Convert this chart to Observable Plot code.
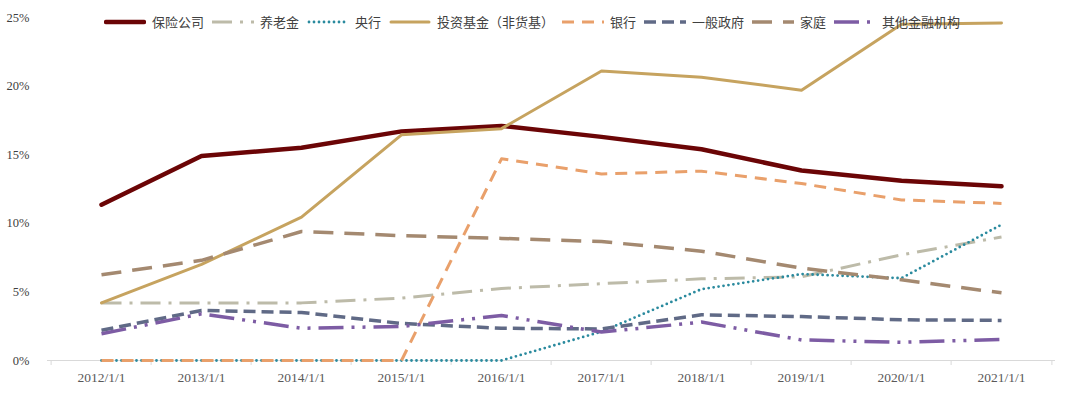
<!DOCTYPE html>
<html><head><meta charset="utf-8">
<script src="https://cdn.jsdelivr.net/npm/d3@7"></script>
<script src="https://cdn.jsdelivr.net/npm/@observablehq/plot@0.6"></script>
<style>
body{margin:0;background:#fff;}
#wrap{position:relative;width:1080px;height:393px;}
#legend{position:absolute;left:104px;top:13px;display:flex;gap:8px;font-family:"Noto Sans CJK SC";font-size:13px;line-height:18px;color:#404040;align-items:center;white-space:nowrap;}
.item{display:flex;align-items:center;gap:6px;}
.item svg{display:block;}
</style></head><body><div id="wrap"><div id="legend"></div></div>
<script>
// ---- data (percent) ----
const dates = ["2012/1/1","2013/1/1","2014/1/1","2015/1/1","2016/1/1","2017/1/1","2018/1/1","2019/1/1","2020/1/1","2021/1/1"];
const seriesNames = ["保险公司","养老金","央行","投资基金（非货基）","银行","一般政府","家庭","其他金融机构"];
const insurance = [11.35,14.9,15.5,16.7,17.1,16.3,15.4,13.85,13.1,12.7];
const pension   = [4.2,4.2,4.2,4.55,5.25,5.6,5.95,6.1,7.7,9.0];
const centralBank = [0,0,0,0,0,2.1,5.2,6.3,6.0,9.9];
const funds     = [4.2,7.0,10.45,16.45,16.9,21.1,20.65,19.7,24.5,24.6];
const banks     = [0,0,0,0,14.7,13.6,13.8,12.9,11.7,11.45];
const government = [2.2,3.65,3.5,2.7,2.35,2.3,3.33,3.2,2.97,2.92];
const households = [6.25,7.3,9.4,9.1,8.9,8.67,7.97,6.73,5.88,4.93];
const otherFin  = [1.95,3.4,2.35,2.48,3.28,2.07,2.8,1.5,1.33,1.53];
const yTicks = [0,5,10,15,20,25];

// ---- styles ----
const valueArrays = [insurance,pension,centralBank,funds,banks,government,households,otherFin];
const styles = [
  {stroke:"#6B0506", strokeWidth:4.5, dash:null, cap:"round"},
  {stroke:"#BDBBA9", strokeWidth:3, dash:"20,8,3,8", cap:"butt"},
  {stroke:"#2A8A9E", strokeWidth:2.8, dash:"0,5", cap:"round"},
  {stroke:"#C6A35F", strokeWidth:3, dash:null, cap:"round"},
  {stroke:"#E9A06B", strokeWidth:3, dash:"12,8", cap:"butt"},
  {stroke:"#606A86", strokeWidth:3.5, dash:"12,6", cap:"butt"},
  {stroke:"#A48970", strokeWidth:3.5, dash:"20,11", cap:"butt"},
  {stroke:"#7D5CA4", strokeWidth:3.5, dash:"25,8,3,8,3,8", cap:"butt"}
];

const W = 1080, H = 393, mL = 47, mR = 25, mT = 17, mB = 33;
const step = (W - mL - mR) / dates.length;

const marks = [];
marks.push(Plot.ruleY([0], {stroke:"#D9D9D9", strokeWidth:1}));
marks.push(Plot.axisX(dates, {tickSize:5, tickFormat:()=> "", dx:-step/2, stroke:"#D9D9D9", label:null}));
marks.push(Plot.axisX([dates[dates.length-1]], {tickSize:5, tickFormat:()=> "", dx:step/2, stroke:"#D9D9D9", label:null}));
marks.push(Plot.axisX(dates, {tickSize:0, tickPadding:12, fontFamily:"Liberation Serif", fontSize:13.5, fill:"#595959", label:null}));
marks.push(Plot.axisY(yTicks, {tickSize:0, tickPadding:18, tickFormat:d=>d+"%", fontFamily:"Liberation Serif", fontSize:12.5, fill:"#404040", label:null}));
seriesNames.forEach((name,i)=>{
  const s = styles[i];
  const rows = dates.map((d,j)=>({date:d, value:valueArrays[i][j]}));
  marks.push(Plot.line(rows, {x:"date", y:"value", stroke:s.stroke, strokeWidth:s.strokeWidth,
    strokeDasharray:s.dash || undefined, strokeLinecap:s.cap, strokeLinejoin:"round"}));
});

const chart = Plot.plot({
  width:W, height:H, marginLeft:mL, marginRight:mR, marginTop:mT, marginBottom:mB,
  style:{background:"transparent", overflow:"visible"},
  x:{type:"point", domain:dates, padding:0.5, axis:null, label:null},
  y:{domain:[0,25], axis:null, label:null},
  marks
});
document.getElementById("wrap").prepend(chart);

// ---- legend ----
const legend = document.getElementById("legend");
seriesNames.forEach((name,i)=>{
  const s = styles[i];
  const item = document.createElement("div");
  item.className = "item";
  const ns = "http://www.w3.org/2000/svg";
  const svg = document.createElementNS(ns,"svg");
  svg.setAttribute("width","42"); svg.setAttribute("height","10");
  const ln = document.createElementNS(ns,"line");
  ln.setAttribute("x1", s.cap==="round" ? 2 : 0); ln.setAttribute("x2", s.cap==="round" ? 40 : 42);
  ln.setAttribute("y1","5"); ln.setAttribute("y2","5");
  ln.setAttribute("stroke", s.stroke); ln.setAttribute("stroke-width", s.strokeWidth);
  ln.setAttribute("stroke-linecap", s.cap);
  if (s.dash) ln.setAttribute("stroke-dasharray", s.dash);
  svg.appendChild(ln);
  const lab = document.createElement("span");
  lab.textContent = name;
  item.appendChild(svg); item.appendChild(lab);
  legend.appendChild(item);
});
</script></body></html>
